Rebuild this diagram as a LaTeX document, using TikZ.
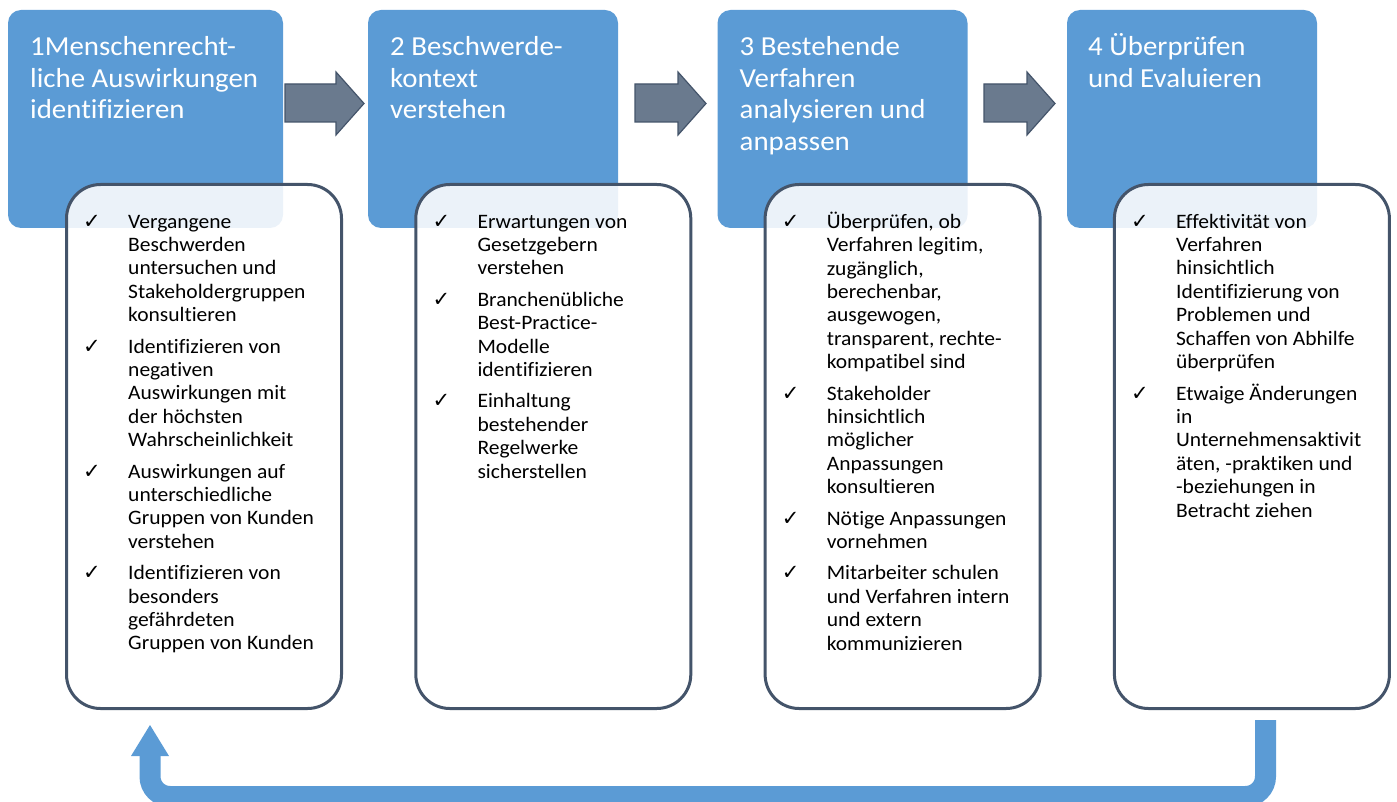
\documentclass[tikz,border=0pt]{standalone}
\usepackage{fontspec}
\setmainfont[FakeStretch=1.05, RawFeature={-liga;-calt;-clig}]{Carlito}
\newfontfamily\symbolfont{DejaVu Sans}
\usetikzlibrary{arrows.meta}
\definecolor{stepblue}{HTML}{5B9BD5}
\definecolor{slate}{HTML}{44546A}
\definecolor{arrowgray}{HTML}{6A7A8E}

% check mark in front of each task
\newcommand{\tick}{\makebox[45pt][l]{\symbolfont\fontsize{21}{21}\selectfont ✓}}

\tikzset{
  phase/.style={fill=stepblue, rounded corners=13pt, inner sep=0pt, outer sep=0pt,
    anchor=north west, minimum height=218pt},
  phasetitle/.style={text=white, font=\fontsize{27.5}{31.5}\selectfont, inner sep=0pt, anchor=north west},
  tasks/.style={draw=slate, line width=3pt, fill=white, fill opacity=0.88, rounded corners=34pt,
    inner sep=0pt, outer sep=0pt, anchor=north west, minimum width=275pt, minimum height=524pt},
  tasklist/.style={font=\fontsize{20.5}{23.4}\selectfont, inner sep=0pt, anchor=north west},
  flow/.style={fill=arrowgray, draw=slate, line width=1.2pt, line join=miter},
  loopback/.style={draw=stepblue, line width=21pt, rounded corners=20pt,
    -{Triangle[width=38pt,length=31pt,line width=0pt]}}
}

\begin{document}
\begin{tikzpicture}[x=1pt, y=-1pt]
  \useasboundingbox (0,0) rectangle (1397,802);

  % phases
  \node[phase, minimum width=275pt] (phase1) at (8,10) {};
  \node[phase, minimum width=250pt] (phase2) at (368,10) {};
  \node[phase, minimum width=250pt] (phase3) at (717.5,10) {};
  \node[phase, minimum width=250pt] (phase4) at (1067,10) {};

  \node[phasetitle] (title1) at (30,33.5) {\begin{tabular}{@{}l@{}}1Menschenrecht-\\liche Auswirkungen\\identifizieren\end{tabular}};
  \node[phasetitle] (title2) at (390,33.5) {\begin{tabular}{@{}l@{}}2 Beschwerde-\\kontext\\verstehen\end{tabular}};
  \node[phasetitle] (title3) at (739.5,33.5) {\begin{tabular}{@{}l@{}}3 Bestehende\\Verfahren\\analysieren und\\anpassen\end{tabular}};
  \node[phasetitle] (title4) at (1088,33.5) {\begin{tabular}{@{}l@{}}4 Überprüfen\\und Evaluieren\end{tabular}};

  % block arrows between the phases
  \foreach \xa/\xb in {285/364, 635/706, 984/1055}
    \draw[flow] (\xa,84) -- (\xb-28,84) -- (\xb-28,72) -- (\xb,103.5) -- (\xb-28,135)
      -- (\xb-28,122) -- (\xa,122) -- cycle;

  % task boxes
  \node[tasks] (tasks1) at (66.5,184.5) {};
  \node[tasks] (tasks2) at (415.8,184.5) {};
  \node[tasks] (tasks3) at (765.1,184.5) {};
  \node[tasks] (tasks4) at (1114.4,184.5) {};

  \node[tasklist] (list1) at (83,211.6) {\begin{tabular}{@{}l@{}l@{}}
    \tick & Vergangene\\ & Beschwerden\\ & untersuchen und\\ & Stakeholdergruppen\\ & konsultieren\\[8pt]
    \tick & Identifizieren von\\ & negativen\\ & Auswirkungen mit\\ & der höchsten\\ & Wahrscheinlichkeit\\[8pt]
    \tick & Auswirkungen auf\\ & unterschiedliche\\ & Gruppen von Kunden\\ & verstehen\\[8pt]
    \tick & Identifizieren von\\ & besonders\\ & gefährdeten\\ & Gruppen von Kunden
  \end{tabular}};
  \node[tasklist] (list2) at (432.3,211.6) {\begin{tabular}{@{}l@{}l@{}}
    \tick & Erwartungen von\\ & Gesetzgebern\\ & verstehen\\[8pt]
    \tick & Branchenübliche\\ & Best-Practice-\\ & Modelle\\ & identifizieren\\[8pt]
    \tick & Einhaltung\\ & bestehender\\ & Regelwerke\\ & sicherstellen
  \end{tabular}};
  \node[tasklist] (list3) at (781.6,211.6) {\begin{tabular}{@{}l@{}l@{}}
    \tick & Überprüfen, ob\\ & Verfahren legitim,\\ & zugänglich,\\ & berechenbar,\\ & ausgewogen,\\ & transparent, rechte-\\ & kompatibel sind\\[8pt]
    \tick & Stakeholder\\ & hinsichtlich\\ & möglicher\\ & Anpassungen\\ & konsultieren\\[8pt]
    \tick & Nötige Anpassungen\\ & vornehmen\\[8pt]
    \tick & Mitarbeiter schulen\\ & und Verfahren intern\\ & und extern\\ & kommunizieren
  \end{tabular}};
  \node[tasklist] (list4) at (1130.9,211.6) {\begin{tabular}{@{}l@{}l@{}}
    \tick & Effektivität von\\ & Verfahren\\ & hinsichtlich\\ & Identifizierung von\\ & Problemen und\\ & Schaffen von Abhilfe\\ & überprüfen\\[8pt]
    \tick & Etwaige Änderungen\\ & in\\ & Unternehmensaktivit\\ & äten, -praktiken und\\ & -beziehungen in\\ & Betracht ziehen
  \end{tabular}};

  % back to the first phase
  \coordinate (back start) at (1265.5,720);
  \coordinate (back low) at (150,796.5);
  \coordinate (back end) at (150,725);
  \draw[loopback] (back start) |- (back low) -- (back end);
\end{tikzpicture}
\end{document}
